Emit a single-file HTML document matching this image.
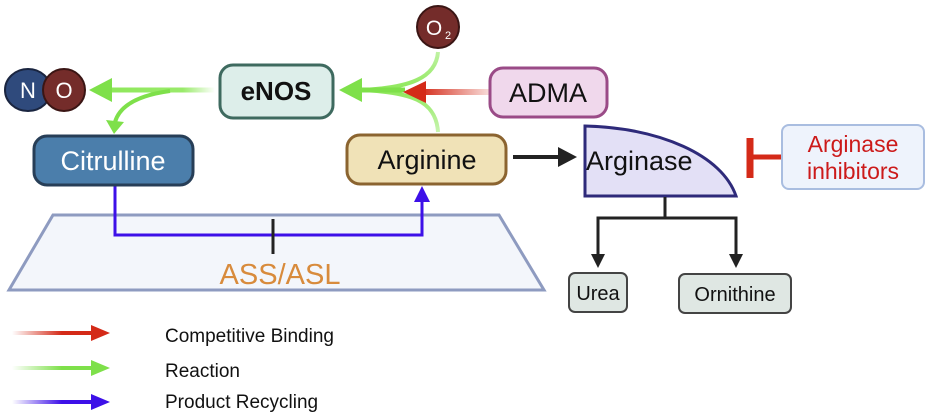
<!DOCTYPE html>
<html><head><meta charset="utf-8"><style>
html,body{margin:0;padding:0;background:#fff;}
svg{display:block;font-family:"Liberation Sans",sans-serif;}
</style></head><body>
<svg width="931" height="417" viewBox="0 0 931 417" xmlns="http://www.w3.org/2000/svg">
<defs>
<linearGradient id="gL" gradientUnits="userSpaceOnUse" x1="108" y1="0" x2="215" y2="0"><stop offset="0" stop-color="#8ee85a"/><stop offset="0.7" stop-color="#8ee85a" stop-opacity="0.9"/><stop offset="1" stop-color="#8ee85a" stop-opacity="0"/></linearGradient>
<linearGradient id="rL" gradientUnits="userSpaceOnUse" x1="420" y1="0" x2="490" y2="0"><stop offset="0" stop-color="#d42a18"/><stop offset="1" stop-color="#d42a18" stop-opacity="0.15"/></linearGradient>
<linearGradient id="lr" gradientUnits="userSpaceOnUse" x1="12" y1="0" x2="95" y2="0"><stop offset="0" stop-color="#d42a18" stop-opacity="0"/><stop offset="0.6" stop-color="#d42a18"/></linearGradient>
<linearGradient id="lg" gradientUnits="userSpaceOnUse" x1="12" y1="0" x2="95" y2="0"><stop offset="0" stop-color="#7ee04a" stop-opacity="0"/><stop offset="0.6" stop-color="#7ee04a"/></linearGradient>
<linearGradient id="lb" gradientUnits="userSpaceOnUse" x1="12" y1="0" x2="95" y2="0"><stop offset="0" stop-color="#3d10e8" stop-opacity="0"/><stop offset="0.6" stop-color="#3d10e8"/></linearGradient>
<linearGradient id="gv" gradientUnits="userSpaceOnUse" x1="0" y1="52" x2="0" y2="90"><stop offset="0" stop-color="#c0f2a4"/><stop offset="1" stop-color="#8ee85a"/></linearGradient>
<linearGradient id="gv2" gradientUnits="userSpaceOnUse" x1="0" y1="132" x2="0" y2="90"><stop offset="0" stop-color="#c8f4b0"/><stop offset="1" stop-color="#8ee85a"/></linearGradient>
</defs>

<polygon points="53,215 499,215 544,290 9,290" fill="#f3f6fb" stroke="#8e9bc0" stroke-width="3"/>
<polyline points="115,186 115,235 422,235 422,200" fill="none" stroke="#3d10e8" stroke-width="3"/>
<polygon points="422,186 414,202 430,202" fill="#3d10e8"/>
<line x1="273" y1="219" x2="273" y2="254" stroke="#222" stroke-width="3"/>
<text x="280" y="284" font-size="29" fill="#d88b3c" text-anchor="middle">ASS/ASL</text>

<ellipse cx="28" cy="90" rx="23" ry="21" fill="#2f4a7c" stroke="#1a2540" stroke-width="2"/>
<circle cx="64" cy="90" r="21" fill="#742c2a" stroke="#3a1514" stroke-width="2"/>
<text x="28" y="98" font-size="22" fill="#fff" text-anchor="middle">N</text>
<text x="64" y="98" font-size="22" fill="#fff" text-anchor="middle">O</text>

<line x1="108" y1="90" x2="215" y2="90" stroke="url(#gL)" stroke-width="5"/>
<polygon points="89,90 112,78 112,102" fill="#7ee04a"/>
<path d="M170,91 C140,95 120,105 115,122" fill="none" stroke="#7ee04a" stroke-width="4"/>
<polygon points="114,134 106,120 124,122" fill="#7ee04a"/>

<rect x="220" y="65" width="113" height="53" rx="13" fill="#ddeeea" stroke="#3e6a5f" stroke-width="3"/>
<text x="276" y="100" font-size="26" font-weight="bold" fill="#111" text-anchor="middle">eNOS</text>

<circle cx="438" cy="27" r="21" fill="#742c2a" stroke="#3a1514" stroke-width="2"/>
<text x="434" y="35" font-size="21" fill="#fff" text-anchor="middle">O</text>
<text x="445" y="39" font-size="11" fill="#fff">2</text>

<path d="M438,52 C436,78 410,88 360,90" fill="none" stroke="url(#gv)" stroke-width="4"/>
<path d="M438,132 C436,100 410,92 360,90" fill="none" stroke="url(#gv2)" stroke-width="4"/>
<line x1="358" y1="90" x2="405" y2="90" stroke="#7ee04a" stroke-width="5"/>
<polygon points="339,90 362,78 362,102" fill="#7ee04a"/>
<line x1="420" y1="92" x2="490" y2="92" stroke="url(#rL)" stroke-width="6"/>
<polygon points="403,92 426,81 426,103" fill="#d42a18"/>

<rect x="490" y="68" width="117" height="49" rx="13" fill="#f0d8ec" stroke="#9a4b87" stroke-width="3"/>
<text x="548" y="102" font-size="27" fill="#111" text-anchor="middle">ADMA</text>

<rect x="34" y="136" width="159" height="49" rx="13" fill="#4b7eab" stroke="#273e57" stroke-width="3"/>
<text x="113" y="170" font-size="27" fill="#fff" text-anchor="middle">Citrulline</text>

<rect x="347" y="135" width="159" height="49" rx="13" fill="#f0e2b7" stroke="#8b6430" stroke-width="3"/>
<text x="427" y="169" font-size="27" fill="#111" text-anchor="middle">Arginine</text>

<line x1="513" y1="157" x2="563" y2="157" stroke="#222" stroke-width="4"/>
<polygon points="577,157 558,147 558,167" fill="#222"/>

<path d="M585,126 C660,128 722,155 736,196 L585,196 Z" fill="#e3e0f6" stroke="#2e2a7a" stroke-width="3"/>
<text x="586" y="170" font-size="27" fill="#111">Arginase</text>

<line x1="750" y1="138" x2="750" y2="178" stroke="#d42a18" stroke-width="7"/>
<line x1="750" y1="157" x2="782" y2="157" stroke="#d42a18" stroke-width="5"/>
<rect x="782" y="125" width="142" height="64" rx="7" fill="#eef3fc" stroke="#a9bde0" stroke-width="2"/>
<text x="853" y="152" font-size="23" fill="#cc1a1a" text-anchor="middle">Arginase</text>
<text x="853" y="179" font-size="23" fill="#cc1a1a" text-anchor="middle">inhibitors</text>

<polyline points="665,197 665,218" fill="none" stroke="#222" stroke-width="3"/>
<polyline points="598,256 598,218 736,218 736,256" fill="none" stroke="#222" stroke-width="3"/>
<polygon points="598,268 591,254 605,254" fill="#222"/>
<polygon points="736,268 729,254 743,254" fill="#222"/>
<rect x="569" y="273" width="58" height="39" rx="6" fill="#dfe7e3" stroke="#444" stroke-width="2"/>
<text x="598" y="300" font-size="20" fill="#111" text-anchor="middle">Urea</text>
<rect x="679" y="274" width="112" height="39" rx="6" fill="#dfe7e3" stroke="#444" stroke-width="2"/>
<text x="735" y="301" font-size="20" fill="#111" text-anchor="middle">Ornithine</text>

<line x1="12" y1="333" x2="95" y2="333" stroke="url(#lr)" stroke-width="4"/>
<polygon points="110,333 91,325 91,341" fill="#d42a18"/>
<line x1="12" y1="368" x2="95" y2="368" stroke="url(#lg)" stroke-width="4"/>
<polygon points="110,368 91,360 91,376" fill="#7ee04a"/>
<line x1="12" y1="402" x2="95" y2="402" stroke="url(#lb)" stroke-width="4"/>
<polygon points="110,402 91,394 91,410" fill="#3d10e8"/>
<text x="165" y="342" font-size="19" fill="#111">Competitive Binding</text>
<text x="165" y="377" font-size="19" fill="#111">Reaction</text>
<text x="165" y="408" font-size="19" fill="#111">Product Recycling</text>
</svg>
</body></html>
